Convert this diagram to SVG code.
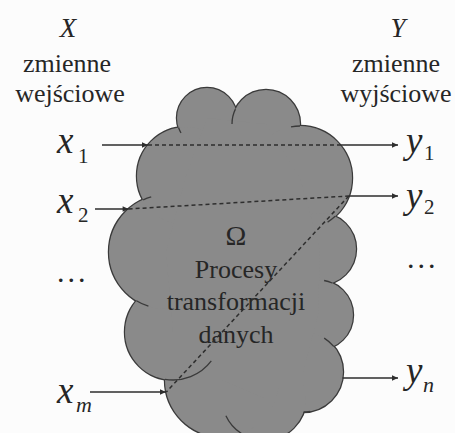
<svg xmlns="http://www.w3.org/2000/svg" width="455" height="433" viewBox="0 0 455 433" font-family="Liberation Serif, Times New Roman, serif">
  <defs>
    <style>
      text{fill:#262626}
      .word{font-size:26px;text-anchor:middle}
      .head{font-size:27px;font-style:italic;text-anchor:middle}
      .var{font-size:37px;font-style:italic}
      .sub{font-size:21px}
      .subi{font-size:22px;font-style:italic}
      .dots{font-size:30px;letter-spacing:3px}
      .edge{stroke:#3a3a3a;stroke-width:2.4;fill:none}
      .lobe{fill:#8a8a8a;stroke:none}
      .stub{stroke:#3a3a3a;stroke-width:1.3;fill:none}
      .arrow{stroke:#2e2e2e;stroke-width:1.5;fill:none;marker-end:url(#ah)}
      .dash{stroke:#2e2e2e;stroke-width:1.5;stroke-dasharray:4 3;fill:none}
    </style>
    <marker id="ah" viewBox="0 0 10 10" refX="10" refY="5" markerWidth="8" markerHeight="6" markerUnits="userSpaceOnUse" orient="auto">
      <path d="M0,0.5 L10,5 L0,9.5 z" fill="#2e2e2e"/>
    </marker>
    <!-- lobes of the cloud: stroked once underneath, then filled on top so only the outer rim stays visible -->
    <g id="lobes">
      <circle cx="207" cy="118" r="30"/>
      <circle cx="266" cy="124" r="34"/>
      <circle cx="300" cy="178" r="52"/>
      <circle cx="320" cy="249" r="36"/>
      <circle cx="318" cy="315" r="35"/>
      <circle cx="303" cy="372" r="40"/>
      <circle cx="264" cy="398" r="42"/>
      <circle cx="222" cy="380" r="57"/>
      <circle cx="173" cy="332" r="48"/>
      <circle cx="166" cy="252" r="57"/>
      <circle cx="186" cy="176" r="49"/>
    </g>
  </defs>

  <rect width="455" height="433" fill="#fcfcfc"/>

  <!-- cloud: processing block -->
  <g id="cloud">
    <use href="#lobes" class="edge"/>
    <use href="#lobes" class="lobe"/>
    <polygon class="lobe" points="207,118 266,124 300,178 320,249 318,315 303,372 264,398 222,380 173,332 166,252 186,176"/>
    <path class="stub" d="M178.6,127.8 A30,30 0 0,0 181,133"/>
    <path class="stub" d="M235.4,109.1 A34,34 0 0,0 232,124"/>
    <path class="stub" d="M300,126 A52,52 0 0,0 291,126.8"/>
    <path class="stub" d="M335.2,216.3 A52,52 0 0,1 327.6,222.1"/>
    <path class="stub" d="M332.2,283 A35,35 0 0,0 324.1,280.5"/>
    <path class="stub" d="M333.7,346.4 A40,40 0 0,0 324.2,338.1"/>
    <path class="stub" d="M303.6,412 A40,40 0 0,0 309.9,411.4"/>
    <path class="stub" d="M241.5,433.5 A42,42 0 0,1 225.9,415.7"/>
    <path class="stub" d="M164.9,379.3 A48,48 0 0,0 211.3,360.9"/>
    <path class="stub" d="M136.4,300.7 A57,57 0 0,0 148.4,306.2"/>
    <path class="stub" d="M143.2,199.8 A57,57 0 0,1 151.2,196.9"/>
    <text x="236" y="245" font-size="28" text-anchor="middle">Ω</text>
    <text class="word" x="236" y="278">Procesy</text>
    <text class="word" x="236" y="310">transformacji</text>
    <text class="word" x="236" y="343">danych</text>
  </g>

  <!-- connectors -->
  <g id="connectors">
    <path class="arrow" d="M102,145 H148"/>
    <path class="arrow" d="M95,209 H128.6"/>
    <path class="arrow" d="M90,392 H166"/>
    <path class="dash" d="M148,145 H340"/>
    <path class="dash" d="M128.6,209 L348.8,196"/>
    <path class="dash" d="M348.8,196 L166.3,392"/>
    <path class="arrow" d="M340,145 H398"/>
    <path class="arrow" d="M348.8,196 H398"/>
    <path class="arrow" d="M342.5,378 H398"/>
  </g>

  <!-- input side -->
  <g id="inputs">
    <text class="head" x="68" y="37">X</text>
    <text class="word" x="67" y="72">zmienne</text>
    <text class="word" x="70" y="102">wejściowe</text>
    <text class="var" x="57" y="153">x</text>
    <text class="sub" x="78" y="163">1</text>
    <text class="var" x="57" y="213">x</text>
    <text class="sub" x="78" y="222">2</text>
    <text class="dots" x="57" y="282">...</text>
    <text class="var" x="57" y="403">x</text>
    <text class="subi" x="76" y="412">m</text>
  </g>

  <!-- output side -->
  <g id="outputs">
    <text class="head" x="398" y="37">Y</text>
    <text class="word" x="396" y="72">zmienne</text>
    <text class="word" x="396" y="102">wyjściowe</text>
    <text class="var" x="406" y="153">y</text>
    <text class="sub" x="424" y="160">1</text>
    <text class="var" x="406" y="208">y</text>
    <text class="sub" x="424" y="214">2</text>
    <text class="dots" x="407" y="268">...</text>
    <text class="var" x="406" y="383">y</text>
    <text class="subi" x="423" y="392">n</text>
  </g>
</svg>
